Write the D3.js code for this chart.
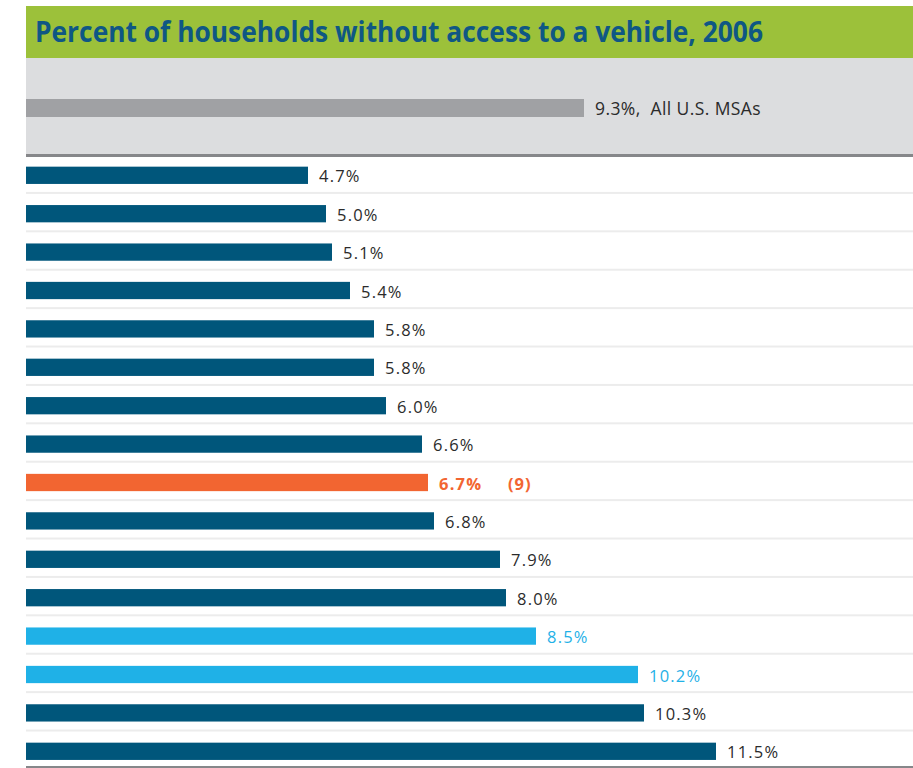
<!DOCTYPE html>
<html>
<head>
<meta charset="utf-8">
<script src="https://cdn.jsdelivr.net/npm/d3@7"></script>
<style>
  html, body { margin: 0; padding: 0; background: #ffffff; }
  svg { display: block; }
  text { font-family: "Open Sans", "Noto Sans", sans-serif; }
</style>
</head>
<body>
<svg id="chart" width="913" height="768"></svg>
<script>
// Share of households with no vehicle, by metro area (2006)
const rowValues = [4.7, 5.0, 5.1, 5.4, 5.8, 5.8, 6.0, 6.6, 6.7, 6.8, 7.9, 8.0, 8.5, 10.2, 10.3, 11.5];
// "base" = other metros, "focus" = highlighted metro, "peer" = comparison metros
const rowGroups = ["base", "base", "base", "base", "base", "base", "base", "base", "focus", "base", "base", "base", "peer", "peer", "base", "base"];
const focusRank = "(9)";
const benchmarkValue = 9.3;
const benchmarkName = "All U.S. MSAs";
const titleText = "Percent of households without access to a vehicle, 2006";

const groupColor = { base: "#00567b", focus: "#f26531", peer: "#1fb1e7" };
const labelColor = { base: "#2b2b2b", focus: "#f26531", peer: "#1fb1e7" };

const W = 913, H = 768;
const left = 26;
const svg = d3.select("#chart");

const x = d3.scaleLinear().domain([0, 12]).range([left, left + 720]);
const y = d3.scaleBand()
  .domain(d3.range(rowValues.length))
  .range([156.1, 770.5])
  .paddingInner(0.55)
  .paddingOuter(0.275);
const fmt = d => d3.format(".1f")(d) + "%";

// Title band
svg.append("rect").attr("x", left).attr("y", 6).attr("width", W - left).attr("height", 52).attr("fill", "#9cc13a");
svg.append("text")
  .attr("x", 35).attr("y", 42)
  .attr("fill", "#0f5784")
  .attr("font-size", 28).attr("font-weight", 700)
  .attr("textLength", 728).attr("lengthAdjust", "spacingAndGlyphs")
  .text(titleText);

// Benchmark band
svg.append("rect").attr("x", left).attr("y", 58).attr("width", W - left).attr("height", 96).attr("fill", "#dcdddf");
svg.append("rect").attr("x", left).attr("y", 154).attr("width", W - left).attr("height", 3).attr("fill", "#86878a");
svg.append("rect")
  .attr("x", x(0)).attr("y", 99)
  .attr("width", x(benchmarkValue) - x(0)).attr("height", 18)
  .attr("fill", "#a0a1a4");
svg.append("text")
  .attr("x", x(benchmarkValue) + 11).attr("y", 115)
  .attr("fill", "#2b2b2b").attr("font-size", 17.5).attr("letter-spacing", 0.4)
  .attr("xml:space", "preserve")
  .text(fmt(benchmarkValue) + ",  " + benchmarkName);

// Row separators
const seps = d3.range(rowValues.length - 1);
svg.append("g").selectAll("rect").data(seps).join("rect")
  .attr("x", left).attr("width", W - left)
  .attr("y", i => y(i) + y.bandwidth() + 8)
  .attr("height", 2)
  .attr("fill", "#ececec");
svg.append("rect").attr("x", left).attr("y", 766).attr("width", W - left).attr("height", 3).attr("fill", "#86878a");

// Bars
const rows = rowValues.map((v, i) => ({ i, v, g: rowGroups[i] }));
svg.append("g").selectAll("rect").data(rows).join("rect")
  .attr("x", x(0))
  .attr("y", d => y(d.i))
  .attr("width", d => x(d.v) - x(0))
  .attr("height", y.bandwidth())
  .attr("fill", d => groupColor[d.g]);

// Value labels
svg.append("g").selectAll("text").data(rows).join("text")
  .attr("x", d => x(d.v) + 11)
  .attr("y", d => y(d.i) + y.bandwidth() / 2 + 7)
  .attr("fill", d => labelColor[d.g])
  .attr("font-size", 16.5)
  .attr("letter-spacing", 1.2)
  .attr("font-weight", d => d.g === "focus" ? 700 : 400)
  .text(d => fmt(d.v));

const focusRow = rows.find(d => d.g === "focus");
svg.append("text")
  .attr("x", x(focusRow.v) + 80)
  .attr("y", y(focusRow.i) + y.bandwidth() / 2 + 7)
  .attr("fill", labelColor.focus)
  .attr("font-size", 16.5).attr("font-weight", 700).attr("letter-spacing", 1)
  .text(focusRank);
</script>
</body>
</html>
